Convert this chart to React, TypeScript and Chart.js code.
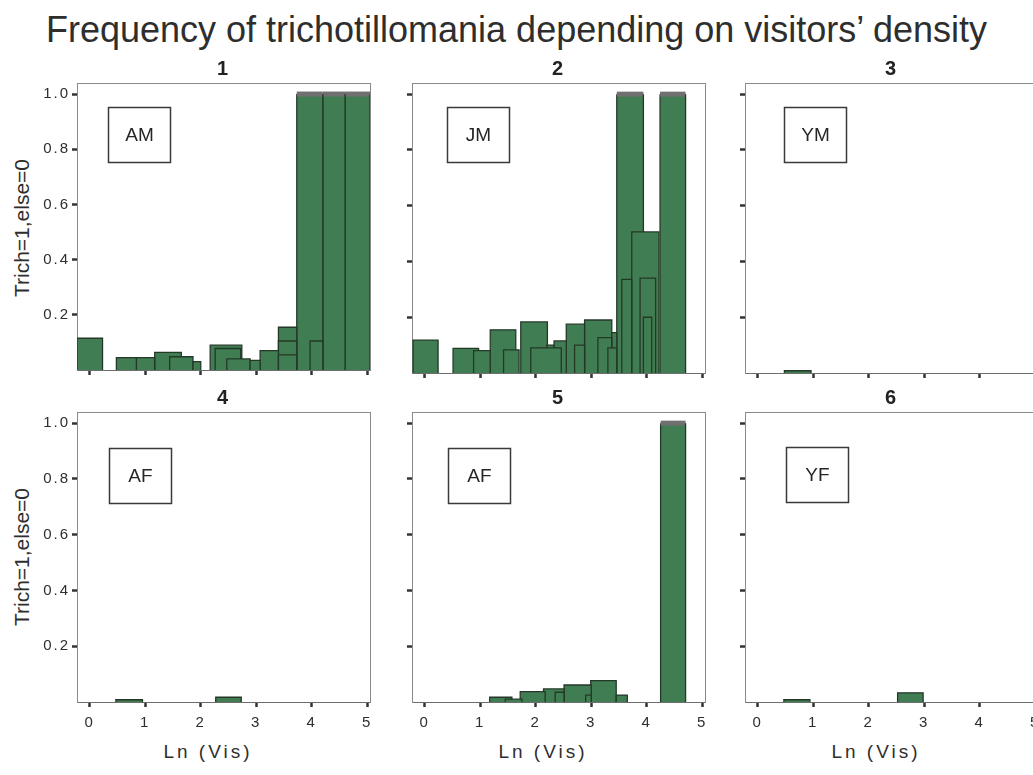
import { useEffect, useRef } from "react";
import { Chart, registerables } from "chart.js";

Chart.register(...registerables);

const FONT = "'Liberation Sans', Arial, Helvetica, sans-serif";

// Axis ticks shared by every panel
const xTickValues = [0, 1, 2, 3, 4, 5];
const yTickValues = [0.2, 0.4, 0.6, 0.8, 1.0];
const X_MIN = -0.23;
const X_MAX = 5.05;
const Y_MAX = 1.04;

const panelTitles = ["1", "2", "3", "4", "5", "6"];
const groupLabels = ["AM", "JM", "YM", "AF", "AF", "YF"];

// Panel 1 (AM): bin start / bin end on Ln(Vis), share with trichotillomania
const amFrom = [-0.23, 0.48, 0.84, 1.17, 1.44, 1.86, 2.17, 2.26, 2.47, 2.89, 3.07, 3.4, 3.4, 3.4, 3.73, 3.97, 4.2, 4.6];
const amTo = [0.23, 0.84, 1.17, 1.65, 1.86, 2.0, 2.74, 2.72, 2.89, 3.07, 3.4, 3.73, 3.73, 3.73, 4.2, 4.2, 4.6, 5.05];
const amFreq = [0.115, 0.045, 0.045, 0.064, 0.048, 0.03, 0.09, 0.078, 0.04, 0.035, 0.07, 0.155, 0.105, 0.055, 1.0, 0.105, 1.0, 1.0];

// Panel 2 (JM)
const jmFrom = [-0.21, 0.51, 0.88, 1.18, 1.42, 1.73, 1.91, 2.2, 2.33, 2.55, 2.7, 2.88, 3.12, 3.3, 3.37, 3.46, 3.55, 3.73, 3.88, 3.94, 4.24];
const jmTo = [0.24, 0.97, 1.18, 1.64, 1.7, 2.21, 2.46, 2.33, 2.55, 2.88, 2.88, 3.37, 3.37, 3.46, 3.46, 3.94, 3.73, 4.22, 4.16, 4.09, 4.7];
const jmFreq = [0.118, 0.088, 0.08, 0.155, 0.083, 0.183, 0.09, 0.1, 0.115, 0.175, 0.1, 0.19, 0.127, 0.09, 0.145, 1.0, 0.336, 0.506, 0.34, 0.2, 1.0];

// Panel 3 (YM)
const ymFrom = [0.48];
const ymTo = [0.96];
const ymFreq = [0.008];

// Panel 4 (AF)
const af1From = [0.47, 2.27];
const af1To = [0.95, 2.73];
const af1Freq = [0.008, 0.017];

// Panel 5 (AF)
const af2From = [1.17, 1.45, 1.72, 2.14, 2.35, 2.51, 2.99, 2.9, 3.45, 4.25];
const af2To = [1.57, 1.75, 2.17, 2.51, 2.51, 3.0, 3.45, 3.0, 3.65, 4.7];
const af2Freq = [0.017, 0.01, 0.037, 0.047, 0.035, 0.061, 0.077, 0.025, 0.025, 1.0];

// Panel 6 (YF)
const yfFrom = [0.47, 2.52];
const yfTo = [0.94, 2.98];
const yfFreq = [0.008, 0.033];

const panelFrom = [amFrom, jmFrom, ymFrom, af1From, af2From, yfFrom];
const panelTo = [amTo, jmTo, ymTo, af1To, af2To, yfTo];
const panelFreq = [amFreq, jmFreq, ymFreq, af1Freq, af2Freq, yfFreq];

// Page geometry of the plot areas
const COL_LEFT = [77, 412, 745];
const ROW_TOP = [83, 412];
const PLOT_W = 293;
const PLOT_H = 290;
const TITLE_H = 30;
// label box offsets inside each plot area
const BOX_POS = [
  [31, 24],
  [35, 24],
  [39, 24],
  [32, 36],
  [36, 36],
  [41, 35],
];
const BOX_W = 62;
const BOX_H = 55;

const BAR_FILL = "#417d52";
const BAR_EDGE = "#243828";
const BAR_CAP = "#707070";
const FRAME = "#8a8a8a";
const TICK = "#333333";
const TEXT = "#2e2e2e";

const spacingPlugin = {
  id: "labelSpacing",
  beforeDraw(chart: any) {
    chart.ctx.letterSpacing = "2px";
  },
};

const groupBoxPlugin = {
  id: "groupBox",
  afterDraw(chart: any, _args: any, opts: any) {
    if (!opts || !opts.text) return;
    const { ctx, chartArea } = chart;
    const x = Math.round(chartArea.left + opts.dx) + 0.5;
    const y = Math.round(chartArea.top + opts.dy) + 0.5;
    ctx.save();
    ctx.letterSpacing = "0px";
    ctx.strokeStyle = "#3a3a3a";
    ctx.lineWidth = 1.5;
    ctx.strokeRect(x, y, opts.w, opts.h);
    ctx.fillStyle = "#262626";
    ctx.font = `19px ${FONT}`;
    ctx.textAlign = "center";
    ctx.textBaseline = "middle";
    ctx.fillText(opts.text, x + opts.w / 2, y + opts.h / 2 + 1);
    ctx.restore();
  },
};

function Panel({ index }: { index: number }) {
  const ref = useRef<HTMLCanvasElement>(null);
  const row = Math.floor(index / 3);
  const col = index % 3;
  const sideW = col === 0 ? 40 : 12;
  const bottomH = row === 0 ? 8 : 30;
  const left = COL_LEFT[col] - sideW;
  const top = ROW_TOP[row] - TITLE_H;
  const width = PLOT_W + 2 * sideW;
  const height = TITLE_H + PLOT_H + bottomH;

  useEffect(() => {
    const from = panelFrom[index];
    const to = panelTo[index];
    const freq = panelFreq[index];
    const datasets = from.map((s, i) => {
      const e = to[i];
      const h = freq[i];
      const tall = h >= 0.99;
      return {
        data: [
          { x: s, y: 0 },
          { x: s, y: h },
          { x: e, y: h },
          { x: e, y: 0 },
        ],
        borderColor: BAR_EDGE,
        backgroundColor: BAR_FILL,
        borderWidth: 1.3,
        fill: "origin",
        pointRadius: 0,
        pointHoverRadius: 0,
        tension: 0,
        order: h,
        segment: tall
          ? {
              borderColor: (c: any) => (c.p0DataIndex === 1 ? BAR_CAP : BAR_EDGE),
              borderWidth: (c: any) => (c.p0DataIndex === 1 ? 5 : 1.3),
            }
          : undefined,
      };
    });

    const tickFont = { family: FONT, size: 15 };
    const chart = new Chart(ref.current as HTMLCanvasElement, {
      type: "line",
      data: { datasets: datasets as any },
      plugins: [spacingPlugin, groupBoxPlugin],
      options: {
        animation: false,
        responsive: false,
        events: [],
        layout: { padding: 0 },
        plugins: {
          legend: { display: false },
          tooltip: { enabled: false },
          title: {
            display: true,
            text: panelTitles[index],
            color: "#222",
            font: { family: FONT, size: 20, weight: "bold", lineHeight: "22px" },
            padding: { top: 5, bottom: 3 },
          },
          groupBox: {
            text: groupLabels[index],
            dx: BOX_POS[index][0],
            dy: BOX_POS[index][1],
            w: BOX_W,
            h: BOX_H,
          },
        } as any,
        scales: {
          x: {
            type: "linear",
            position: "bottom",
            min: X_MIN,
            max: X_MAX,
            afterBuildTicks: (s: any) => {
              s.ticks = xTickValues.map((v) => ({ value: v }));
            },
            afterFit: (s: any) => {
              s.height = bottomH;
            },
            grid: { drawOnChartArea: false, drawTicks: true, tickLength: 5, tickWidth: 2.5, tickColor: TICK },
            border: { display: true, color: "#6e6e6e", width: 1 },
            ticks: {
              display: row === 1,
              padding: 7,
              font: tickFont,
              color: TEXT,
              maxRotation: 0,
              autoSkip: false,
              callback: (v: any) => String(v),
            },
          },
          xTop: {
            type: "linear",
            position: "top",
            min: X_MIN,
            max: X_MAX,
            afterFit: (s: any) => {
              s.height = 0;
            },
            grid: { drawOnChartArea: false, drawTicks: false },
            border: { display: true, color: FRAME, width: 1 },
            ticks: { display: false },
          },
          y: {
            type: "linear",
            position: "left",
            min: 0,
            max: Y_MAX,
            afterBuildTicks: (s: any) => {
              s.ticks = yTickValues.map((v) => ({ value: v }));
            },
            afterFit: (s: any) => {
              s.width = sideW;
            },
            grid: { drawOnChartArea: false, drawTicks: true, tickLength: 5, tickWidth: 2.5, tickColor: TICK },
            border: { display: true, color: FRAME, width: 1 },
            ticks: {
              display: col === 0,
              padding: 2,
              font: tickFont,
              color: TEXT,
              callback: (v: any) => Number(v).toFixed(1),
            },
          },
          yRight: {
            type: "linear",
            position: "right",
            min: 0,
            max: Y_MAX,
            afterFit: (s: any) => {
              s.width = sideW;
            },
            grid: { drawOnChartArea: false, drawTicks: false },
            border: { display: true, color: FRAME, width: 1 },
            ticks: { display: false },
          },
        } as any,
      },
    });
    return () => chart.destroy();
  }, [index]);

  return (
    <canvas
      ref={ref}
      width={width}
      height={height}
      style={{ position: "absolute", left, top, width, height }}
    />
  );
}

export default function App() {
  const xTitleY = 752;
  return (
    <div
      style={{
        position: "fixed",
        left: 0,
        top: 0,
        width: 1033,
        height: 775,
        overflow: "hidden",
        background: "#ffffff",
        fontFamily: FONT,
        color: "#2e2e2e",
      }}
    >
      <div
        style={{
          position: "absolute",
          left: 0,
          top: 8,
          width: 1033,
          height: 44,
          lineHeight: "44px",
          textAlign: "center",
          fontSize: 36,
          whiteSpace: "nowrap",
        }}
      >
        Frequency of trichotillomania depending on visitors’ density
      </div>

      {ROW_TOP.map((t, r) => (
        <div
          key={"yt" + r}
          style={{
            position: "absolute",
            left: 22 - 150,
            top: t + PLOT_H / 2 - 12,
            width: 300,
            height: 24,
            lineHeight: "24px",
            textAlign: "center",
            fontSize: 21,
            transform: "rotate(-90deg)",
            whiteSpace: "nowrap",
          }}
        >
          Trich=1,else=0
        </div>
      ))}

      {COL_LEFT.map((l, c) => (
        <div
          key={"xt" + c}
          style={{
            position: "absolute",
            left: l - 17,
            top: xTitleY - 12,
            width: PLOT_W,
            height: 24,
            lineHeight: "24px",
            textAlign: "center",
            fontSize: 19,
            letterSpacing: "3px",
            paddingLeft: 3,
            boxSizing: "border-box",
            whiteSpace: "nowrap",
          }}
        >
          Ln (Vis)
        </div>
      ))}

      {panelTitles.map((_, i) => (
        <Panel key={i} index={i} />
      ))}
    </div>
  );
}
